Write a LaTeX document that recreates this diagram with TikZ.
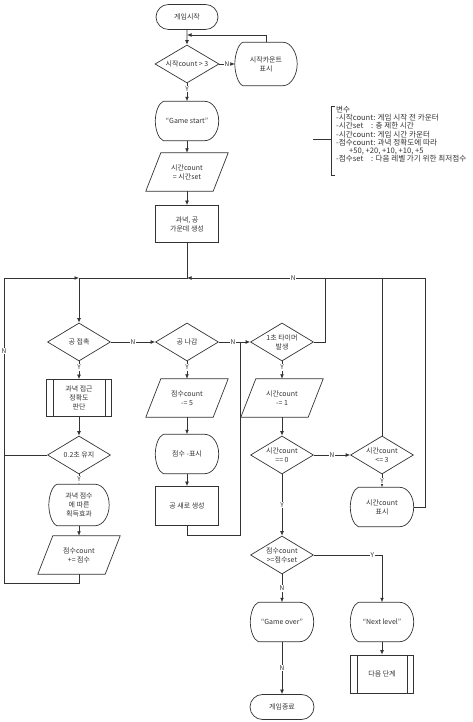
\documentclass[tikz,border=0pt]{standalone}
\usepackage{fontspec}
\setmainfont{Noto Sans CJK KR}
\usetikzlibrary{arrows.meta,shapes.geometric,shapes.misc,calc}

\tikzset{
  line/.style={draw=black!80, line width=0.7pt},
  arr/.style={line, -{Latex[length=4.5pt,width=3.8pt]}},
  txt/.style={font=\fontsize{7}{9}\selectfont, text=black!80, align=center, inner sep=0pt},
  term/.style={txt, line, rounded rectangle, minimum width=62pt, minimum height=25pt},
  decide/.style={txt, line, diamond, shape aspect=1.66, minimum width=63pt, minimum height=38pt},
  proc/.style={txt, line, rectangle, minimum width=63pt, minimum height=38pt},
  predef/.style={proc, path picture={
      \draw[line] ([xshift=6.5pt]path picture bounding box.north west) -- ([xshift=6.5pt]path picture bounding box.south west);
      \draw[line] ([xshift=-6.5pt]path picture bounding box.north east) -- ([xshift=-6.5pt]path picture bounding box.south east);}},
  iobox/.style={txt, minimum width=67pt, minimum height=38pt},
  dispbox/.style={txt, minimum width=63pt, minimum height=39pt},
  yn/.style={font=\fontsize{6.5}{7}\selectfont, text=black!80, fill=white, inner sep=0.8pt},
}

% outlines of the input/output and display boxes
\newcommand{\iodraw}[1]{\draw[line] ([xshift=7.5pt]#1.north west) -- ([xshift=7.5pt]#1.north east) -- ([xshift=-7.5pt]#1.south east) -- ([xshift=-7.5pt]#1.south west) -- cycle;}
\newcommand{\dispdraw}[1]{\draw[line] ([xshift=8pt]#1.north west) -- ([xshift=-14pt]#1.north east) .. controls +(7.7pt,0) and +(0,11pt) .. (#1.east) .. controls +(0,-11pt) and +(7.7pt,0) .. ([xshift=-14pt]#1.south east) -- ([xshift=8pt]#1.south west) .. controls +(-5pt,2pt) and +(0,-8pt) .. (#1.west) .. controls +(0,8pt) and +(-5pt,-2pt) .. ([xshift=8pt]#1.north west);}
\newcommand{\lgd}[1]{\makebox[35pt][l]{#1}}

\begin{document}
\begin{tikzpicture}[x=1pt,y=1pt]
  \useasboundingbox (0,0) rectangle (472,722);
  % start
  \node[term] (start) at (187,705) {게임시작};
  \node[decide, minimum width=64pt] (d0) at (187,658) {시작count > 3};
  \node[dispbox, minimum width=62pt, minimum height=43pt] (show0) at (266,658) {시작카운트\\표시};
  \node[dispbox] (gs) at (187,601) {“Game start”};
  \node[iobox] (io1) at (187,550) {시간count\\= 시간set};
  \node[proc, minimum height=37pt] (pr1) at (187,498) {과녁, 공\\가운데 생성};
  \coordinate (j0) at (187,687);
  \coordinate (jm) at (187,444);
  \coordinate (jl) at (79,444);
  \coordinate (lt) at (4,444);
  \coordinate (lb) at (4,139);
  % left column
  \node[decide] (d1) at (79,380) {공 접촉};
  \node[predef, minimum width=65pt, minimum height=37pt] (pp1) at (79,324) {과녁 접근\\정확도\\판단};
  \node[decide] (d2) at (79,267) {0.2초 유지};
  \node[dispbox, minimum width=60pt, minimum height=41pt] (show1) at (79,217) {과녁 점수\\에 따른\\획득효과};
  \node[iobox] (io2) at (79,167) {점수count\\+= 점수};
  % middle column
  \node[decide] (d3) at (187,380) {공 나감};
  \node[iobox] (io3) at (187,324) {점수count\\-= 5};
  \node[dispbox] (show2) at (187,268) {점수 -표시};
  \node[proc, minimum height=39pt] (pr2) at (187,216) {공 새로 생성};
  \coordinate (mb) at (240,187);
  % right columns
  \node[decide] (d4) at (282,380) {1초 타이머\\발생};
  \node[iobox] (io4) at (282,324) {시간count\\-= 1};
  \node[decide] (d5) at (282,267) {시간count\\== 0};
  \node[decide] (d6) at (382,267) {시간count\\<= 3};
  \node[dispbox] (show3) at (382,215) {시간count\\표시};
  \node[decide] (d7) at (282,167) {점수count\\>=점수set};
  \node[dispbox] (over) at (282,100) {“Game over”};
  \node[dispbox] (next) at (382,100) {“Next level”};
  \node[predef] (pp2) at (382,48) {다음 단계};
  \node[term, minimum width=64pt] (end) at (282,15) {게임종료};
  \coordinate (c1) at (325,444);
  \coordinate (c2) at (425,444);
  \iodraw{io1} \iodraw{io2} \iodraw{io3} \iodraw{io4}
  \dispdraw{show0} \dispdraw{gs} \dispdraw{show1} \dispdraw{show2}
  \dispdraw{show3} \dispdraw{over} \dispdraw{next}
  % connectors, top
  \draw[arr] (start) -- (d0);
  \draw[arr] (show0.north) |- (j0);
  \draw[arr] (d0) -- node[yn] (n0) {N} (show0);
  \draw[arr] (d0) -- node[yn, pos=0.3] (y0) {Y} (gs);
  \draw[arr] (gs) -- (io1);
  \draw[arr] (io1) -- (pr1);
  \draw[line] (pr1) -- (jm) -- (jl);
  \draw[arr] (jl) -- (d1);
  % left loop
  \draw[arr] (io2.south) -- (io2.south |- lb) -- (lb) -- node[yn, pos=0.76] (n2) {N} (lt) -- (jl);
  \draw[line] (d2.west) -- (d2.west -| lt);
  \draw[arr] (d1) -- node[yn] (n1) {N} (d3);
  \draw[arr] (d1) -- node[yn, pos=0.35] (y1) {Y} (pp1);
  \draw[arr] (pp1) -- (d2);
  \draw[arr] (d2) -- node[yn] (y2) {Y} (show1);
  \draw[arr] (show1) -- (io2);
  % middle
  \draw[arr] (d3) -- node[yn, pos=0.45] (n3) {N} (d4);
  \draw[arr] (d3) -- node[yn, pos=0.35] (y3) {Y} (io3);
  \draw[arr] (io3) -- (show2);
  \draw[arr] (show2) -- (pr2);
  \draw[line] (pr2.south) |- (mb) -- (mb |- d3);
  % right
  \draw[arr] (d4.east) -| (c1) -- node[yn, pos=0.23] (n4) {N} (jm);
  \draw[arr] (d4) -- node[yn, pos=0.35] (y4) {Y} (io4);
  \draw[arr] (io4) -- (d5);
  \draw[arr] (d5) -- node[yn] (n5) {N} (d6);
  \draw[line] (d6.north) -- (d6.north |- jm);
  \draw[arr] (d6) -- node[yn] (y6) {Y} (show3);
  \draw[line] (show3.east) -| (c2) -- (c1);
  \draw[arr] (d5) -- node[yn] (y5) {Y} (d7);
  \draw[arr] (d7.east) -| node[yn, pos=0.43] (y7) {Y} (next.north);
  \draw[arr] (d7) -- node[yn] (n7) {N} (over);
  \draw[arr] (over) -- node[yn] (n8) {N} (end);
  \draw[arr] (next) -- (pp2);
  % legend
  \draw[line] (313,583) -- (331,583);
  \draw[line] (335,616) -- (331,616) -- (331,547) -- (335,547);
  \node[anchor=north west, align=left, inner sep=0pt, font=\fontsize{7.6}{8.2}\selectfont, text=black!80] (legend) at (336,616) {변수\\
    -시작count: 게임 시작 전 카운터\\
    \lgd{-시간set}: 총 제한 시간\\
    -시간count: 게임 시간 카운터\\
    -점수count: 과녁 정확도에 따라\\
    \hspace{13pt}+50, +20, +10, +10, +5\\
    \lgd{-점수set}: 다음 레벨 가기 위한 최저점수};
\end{tikzpicture}
\end{document}
